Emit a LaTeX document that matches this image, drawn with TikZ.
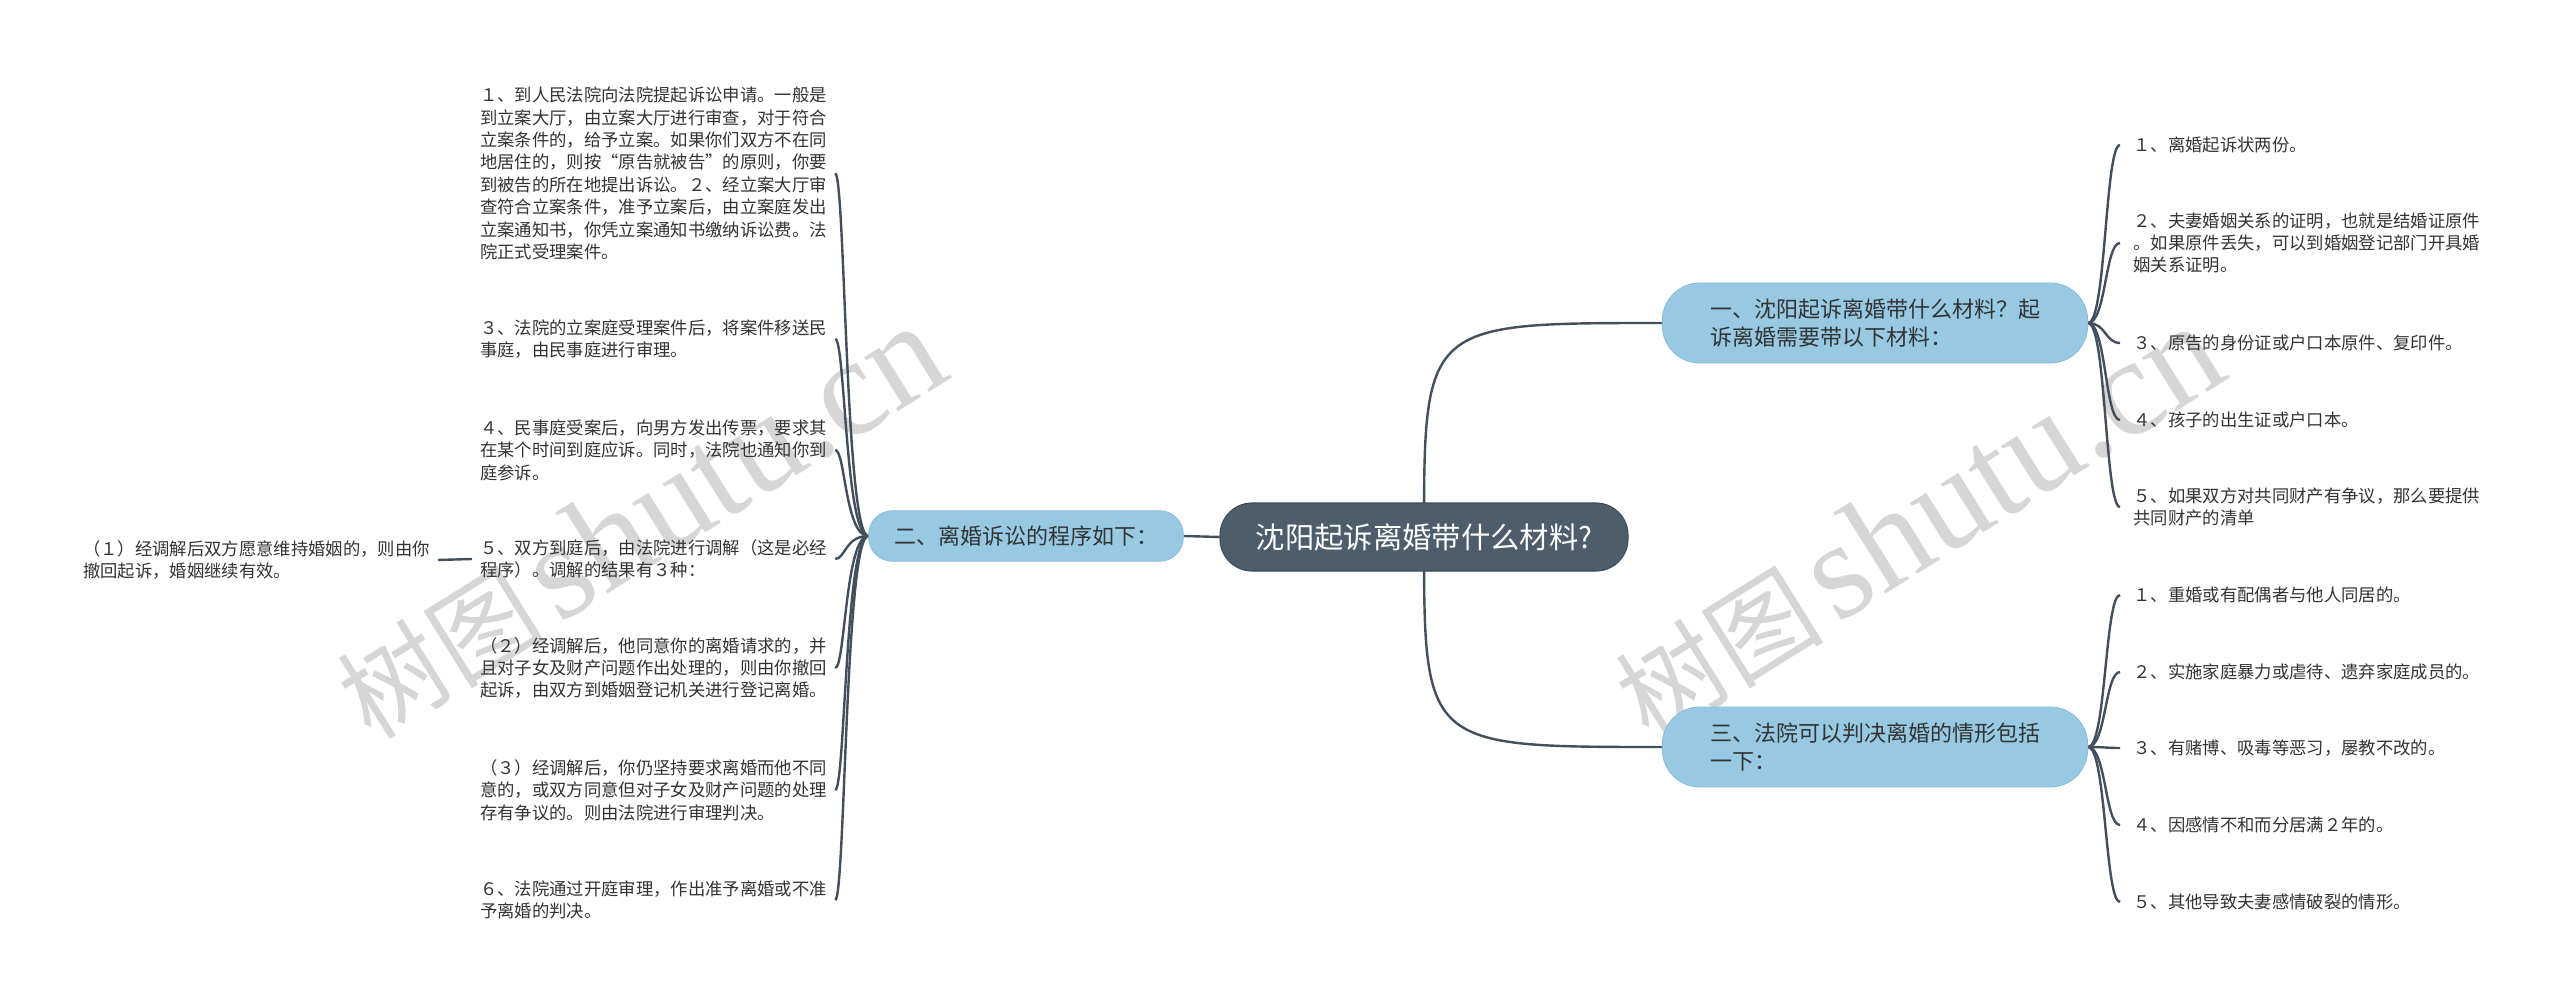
\documentclass[tikz,border=0pt]{standalone}
\usepackage{fontspec}
\setmainfont{Noto Sans CJK SC}
\newfontfamily\cjk{Noto Sans CJK SC}
\newfontfamily\wmserif{Liberation Serif}
\definecolor{linec}{HTML}{42505E}
\definecolor{rootf}{HTML}{4E5D6C}
\definecolor{rootd}{HTML}{3E4B58}
\definecolor{bluef}{HTML}{97CAE2}
\definecolor{blued}{HTML}{88BDD8}
\definecolor{txtc}{HTML}{333333}
\definecolor{wmc}{HTML}{D6D6D6}
\pgfdeclarelayer{wmlayer}
\pgfdeclarelayer{linelayer}
\pgfsetlayers{wmlayer,linelayer,main}
\tikzset{
  conn/.style={draw=linec, line width=1.8pt},
  leafL/.style={font=\fontsize{13}{16.8}\selectfont, text=txtc, align=left, inner sep=0pt, inner xsep=6pt, anchor=west},
  leafR/.style={font=\fontsize{13}{16.8}\selectfont, text=txtc, align=left, inner sep=0pt, inner xsep=10pt, anchor=west},
  branchbox/.style={fill=bluef, draw=blued, line width=0.6pt, font=\fontsize{16.5}{21.5}\selectfont, text=txtc, align=left, inner sep=0pt},
  rootbox/.style={fill=rootf, draw=rootd, line width=0.8pt, rounded corners=24pt, minimum width=306pt, minimum height=51pt, font=\fontsize{22}{26}\selectfont, text=white, inner sep=0pt},
  wmark/.style={text=wmc, rotate=32, inner sep=0pt}
}
\newcommand{\wmtext}{{\fontsize{78}{80}\selectfont\cjk 树图}\hspace{10pt}{\fontsize{104}{110}\selectfont\wmserif shutu.cn}}
\begin{document}
\begin{tikzpicture}[x=0.75pt,y=-0.75pt]
\begin{pgfonlayer}{wmlayer}
\fill[white] (0,0) rectangle (2560,1005);
\node[wmark] (wm1) at (640,522) {\wmtext};
\node[wmark] (wm2) at (1918,522) {\wmtext};
\end{pgfonlayer}
\useasboundingbox (0,0) rectangle (2560,1005);

% nodes
\node[rootbox] (root) at (1424,537) {沈阳起诉离婚带什么材料?};
\node[branchbox, rounded corners=18pt, minimum width=236pt, minimum height=38pt] (b2) at (1026,536) {二、离婚诉讼的程序如下：};
\node[branchbox, rounded corners=28pt, minimum width=319pt, minimum height=60pt] (b1) at (1875,323) {一、沈阳起诉离婚带什么材料？起\\诉离婚需要带以下材料：};
\node[branchbox, rounded corners=28pt, minimum width=319pt, minimum height=60pt] (b3) at (1875,747) {三、法院可以判决离婚的情形包括\\一下：};

% left leaves
\node[leafL] (c1) at (472,173.5) {１、到人民法院向法院提起诉讼申请。一般是\\到立案大厅，由立案大厅进行审查，对于符合\\立案条件的，给予立案。如果你们双方不在同\\地居住的，则按“原告就被告”的原则，你要\\到被告的所在地提出诉讼。２、经立案大厅审\\查符合立案条件，准予立案后，由立案庭发出\\立案通知书，你凭立案通知书缴纳诉讼费。法\\院正式受理案件。};
\node[leafL] (c2) at (472,339) {３、法院的立案庭受理案件后，将案件移送民\\事庭，由民事庭进行审理。};
\node[leafL] (c3) at (472,450) {４、民事庭受案后，向男方发出传票，要求其\\在某个时间到庭应诉。同时，法院也通知你到\\庭参诉。};
\node[leafL] (c4) at (472,559) {５、双方到庭后，由法院进行调解（这是必经\\程序）。调解的结果有３种：};
\node[leafL] (c5) at (472,668) {（２）经调解后，他同意你的离婚请求的，并\\且对子女及财产问题作出处理的，则由你撤回\\起诉，由双方到婚姻登记机关进行登记离婚。};
\node[leafL] (c6) at (472,790) {（３）经调解后，你仍坚持要求离婚而他不同\\意的，或双方同意但对子女及财产问题的处理\\存有争议的。则由法院进行审理判决。};
\node[leafL] (c7) at (472,900) {６、法院通过开庭审理，作出准予离婚或不准\\予离婚的判决。};
\node[leafL, anchor=east] (k1) at (438,560) {（１）经调解后双方愿意维持婚姻的，则由你\\撤回起诉，婚姻继续有效。};

% right leaves of b1
\node[leafR] (r1) at (2120,145) {１、离婚起诉状两份。};
\node[leafR] (r2) at (2120,243) {２、夫妻婚姻关系的证明，也就是结婚证原件\\。如果原件丢失，可以到婚姻登记部门开具婚\\姻关系证明。};
\node[leafR] (r3) at (2120,343) {３、原告的身份证或户口本原件、复印件。};
\node[leafR] (r4) at (2120,420) {４、孩子的出生证或户口本。};
\node[leafR] (r5) at (2120,507) {５、如果双方对共同财产有争议，那么要提供\\共同财产的清单};

% right leaves of b3
\node[leafR] (s1) at (2120,595) {１、重婚或有配偶者与他人同居的。};
\node[leafR] (s2) at (2120,672) {２、实施家庭暴力或虐待、遗弃家庭成员的。};
\node[leafR] (s3) at (2120,748) {３、有赌博、吸毒等恶习，屡教不改的。};
\node[leafR] (s4) at (2120,825) {４、因感情不和而分居满２年的。};
\node[leafR] (s5) at (2120,902) {５、其他导致夫妻感情破裂的情形。};

% connectors (behind boxes)
\begin{pgfonlayer}{linelayer}
\draw[conn] (b2.east) -- (root.west);
\draw[conn] (root.center) .. controls (root.center |- b1.west) .. (b1.west);
\draw[conn] (root.center) .. controls (root.center |- b3.west) .. (b3.west);
\foreach \c in {c1,c2,c3,c4,c5,c6,c7}
  \draw[conn] (b2.west) .. controls +(-23,0) and +(10,0) .. (\c.east);
\draw[conn] (c4.west) -- (k1.east);
\foreach \c in {r1,r2,r3,r4,r5}
  \draw[conn] (b1.east) .. controls +(18,0) and +(-15,0) .. (\c.west);
\foreach \c in {s1,s2,s3,s4,s5}
  \draw[conn] (b3.east) .. controls +(18,0) and +(-15,0) .. (\c.west);
\end{pgfonlayer}
\end{tikzpicture}
\end{document}
